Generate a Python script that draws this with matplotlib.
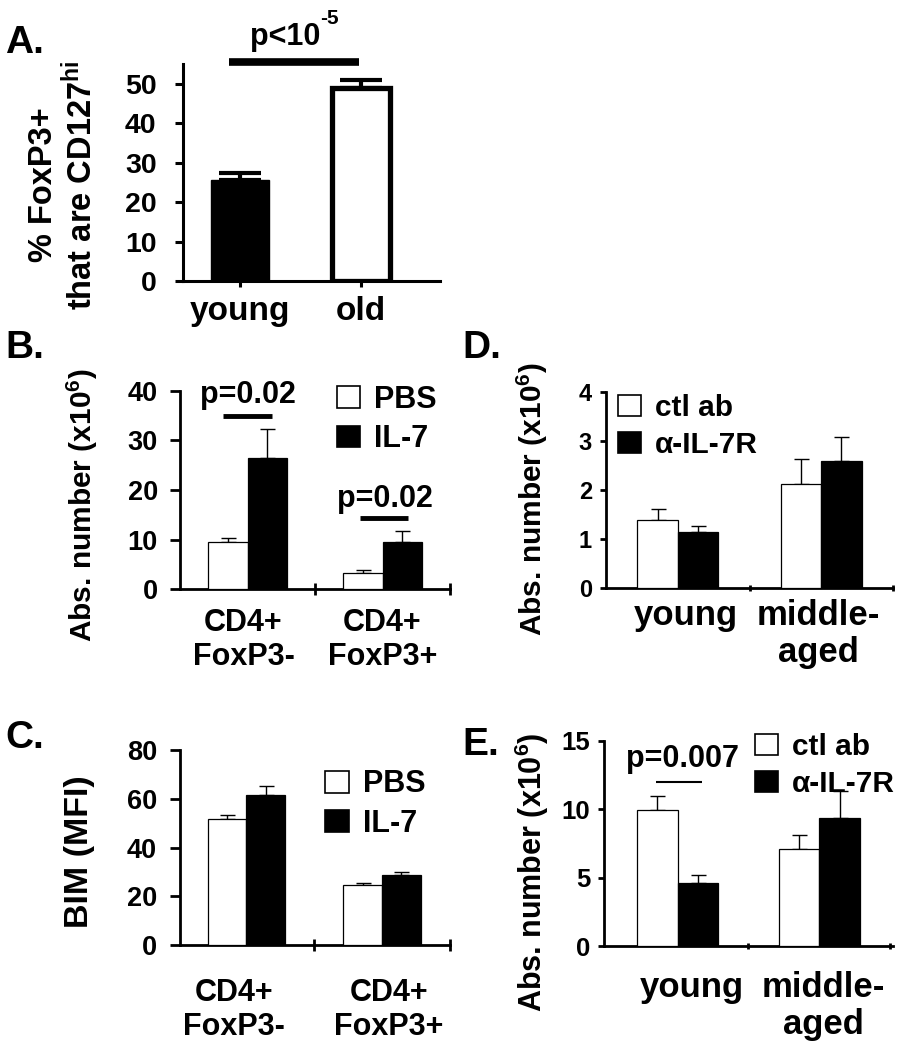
import matplotlib
matplotlib.use("Agg")
import matplotlib.pyplot as plt
from matplotlib.patches import Patch
import numpy as np

plt.rcParams['font.family'] = ['Liberation Sans', 'DejaVu Sans']
plt.rcParams['font.weight'] = 'bold'
plt.rcParams['mathtext.fontset'] = 'custom'
plt.rcParams['mathtext.rm'] = 'Liberation Sans:bold'
plt.rcParams['mathtext.bf'] = 'Liberation Sans:bold'
plt.rcParams['mathtext.it'] = 'Liberation Sans:bold'

# ---- data ----
a_cats = ["young", "old"]
a_vals = [25.5, 49.0]
a_err = [1.8, 2.0]

b_cats = ["CD4+\nFoxP3-", "CD4+\nFoxP3+"]
b_pbs = [9.5, 3.2]
b_pbs_err = [0.9, 0.6]
b_il7 = [26.4, 9.5]
b_il7_err = [5.9, 2.3]

c_cats = ["CD4+\nFoxP3-", "CD4+\nFoxP3+"]
c_pbs = [51.8, 24.5]
c_pbs_err = [1.4, 1.1]
c_il7 = [61.5, 28.9]
c_il7_err = [3.6, 1.2]

d_cats = ["young", "middle-\naged"]
d_ctl = [1.38, 2.12]
d_ctl_err = [0.23, 0.52]
d_anti = [1.15, 2.60]
d_anti_err = [0.12, 0.48]

e_cats = ["young", "middle-\naged"]
e_ctl = [9.93, 7.10]
e_ctl_err = [1.07, 1.0]
e_anti = [4.59, 9.39]
e_anti_err = [0.61, 1.98]

W, H = 909, 1050
fig = plt.figure(figsize=(W/100, H/100), dpi=100)

def ax_px(l, r, b, t):
    return fig.add_axes([l/W, 1-b/H, (r-l)/W, (b-t)/H])

def style(ax, lw, ylen, fs, pad):
    for s in ['top', 'right']:
        ax.spines[s].set_visible(False)
    ax.spines['left'].set_linewidth(lw)
    ax.spines['bottom'].set_linewidth(lw)
    ax.tick_params(axis='y', direction='out', length=ylen, width=lw, labelsize=fs, pad=pad)
    for t in ax.get_yticklabels():
        t.set_fontweight('bold')

# ---- Panel A ----
axA = ax_px(183, 440, 281, 64)
x = np.arange(len(a_cats))
wA = 0.48
axA.bar(x[0], a_vals[0], wA, color='black', edgecolor='black', linewidth=1, zorder=3)
axA.bar(x[1], a_vals[1], wA, color='white', edgecolor='black', linewidth=3.8, zorder=3)
axA.errorbar(x, a_vals, yerr=[[0, 0], a_err], fmt='none', ecolor='black',
             elinewidth=3, capsize=15, capthick=3, zorder=2)
axA.set_xlim(-0.47, 1.65)
axA.set_ylim(0, 55)
axA.set_yticks([0, 10, 20, 30, 40, 50])
style(axA, 2.2, 6, 20.5, 13)
axA.set_xticks(x)
axA.set_xticklabels(a_cats, fontsize=24, fontweight='bold')
axA.tick_params(axis='x', direction='out', length=4, width=2.2, pad=7)
axA.set_ylabel("% FoxP3+\nthat are CD127$^{\\mathbf{hi}}$", fontsize=23.5, fontweight='bold',
               linespacing=1.15)
axA.yaxis.label.set_va('center')
axA.yaxis.set_label_coords(-0.465, 0.442)
axA.plot([-0.09, 0.98], [55.6, 55.6], color='black', lw=5.5, clip_on=False, solid_capstyle='butt')
axA.text(0.66, 59.9, "p<10", fontsize=22, fontweight='bold',
         ha='right', va='baseline', clip_on=False)
axA.text(0.665, 65.2, "-5", fontsize=15, fontweight='bold',
         ha='left', va='baseline', clip_on=False)
fig.text(5/W, 1-53/H, "A.", fontsize=28, fontweight='bold', ha='left', va='baseline')

def grouped(ax, cats, v1, e1, v2, e2, width, xlim, ylim, yticks, lw, ylen, fs_tick,
            tick_pad, fs_cat, cat_pad, cat_pos, elw=1.0, cap=5.4):
    x = np.arange(len(cats))
    ax.bar(x - width/2, v1, width, color='white', edgecolor='black', linewidth=0.9, zorder=3)
    ax.bar(x + width/2, v2, width, color='black', edgecolor='black', linewidth=0.9, zorder=3)
    ax.errorbar(x - width/2, v1, yerr=[np.zeros(len(v1)), e1], fmt='none', ecolor='black',
                elinewidth=elw, capsize=cap, capthick=elw, zorder=2)
    ax.errorbar(x + width/2, v2, yerr=[np.zeros(len(v2)), e2], fmt='none', ecolor='black',
                elinewidth=elw, capsize=cap, capthick=elw, zorder=2)
    ax.set_xlim(*xlim)
    ax.set_ylim(*ylim)
    ax.set_yticks(yticks)
    style(ax, lw, ylen, fs_tick, tick_pad)
    ax.set_xticks(x + 0.5)
    ax.set_xticklabels([])
    ax.tick_params(axis='x', which='major', direction='inout', length=ylen*1.2, width=lw)
    ax.set_xticks(cat_pos, minor=True)
    ax.set_xticklabels(cats, minor=True, fontsize=fs_cat, fontweight='bold', linespacing=1.15)
    ax.tick_params(axis='x', which='minor', length=0, pad=cat_pad)
    return x

def legend(ax, labels, anchor, fs):
    handles = [Patch(facecolor='white', edgecolor='black', linewidth=1.2),
               Patch(facecolor='black', edgecolor='black', linewidth=1.2)]
    leg = ax.legend(handles, labels, loc='upper left', bbox_to_anchor=anchor, frameon=False,
                    handlelength=0.78, handleheight=0.72, handletextpad=0.45,
                    labelspacing=0.3, borderpad=0, borderaxespad=0,
                    prop={'size': fs, 'weight': 'bold'})
    return leg

# ---- Panel B ----
axB = ax_px(180, 450, 589, 391)
grouped(axB, b_cats, b_pbs, b_pbs_err, b_il7, b_il7_err, 0.29, (-0.5, 1.48), (0, 40),
        [0, 10, 20, 30, 40], 2.0, 7.5, 19.5, 8.5, 22, 14, [-0.03, 1.0])
legend(axB, ["PBS", "IL-7"], (0.58, 1.03), 22)
axB.set_ylabel("Abs. number (x10$^{\\mathbf{6}}$)", fontsize=21.5, fontweight='bold')
axB.yaxis.label.set_va('center')
axB.yaxis.set_label_coords(-0.363, 0.424)
axB.plot([-0.18, 0.18], [34.9, 34.9], color='black', lw=3.5, clip_on=False, solid_capstyle='butt')
axB.text(0.0, 37.6, "p=0.02", fontsize=22, fontweight='bold', ha='center', va='baseline', clip_on=False)
axB.plot([0.83, 1.19], [14.3, 14.3], color='black', lw=3.5, clip_on=False, solid_capstyle='butt')
axB.text(1.02, 16.6, "p=0.02", fontsize=22, fontweight='bold', ha='center', va='baseline', clip_on=False)
fig.text(5/W, 1-358/H, "B.", fontsize=28, fontweight='bold', ha='left', va='baseline')

# ---- Panel D ----
axD = ax_px(606, 893, 588, 392)
grouped(axD, d_cats, d_ctl, d_ctl_err, d_anti, d_anti_err, 0.282, (-0.5, 1.5), (0, 4),
        [0, 1, 2, 3, 4], 2.0, 4, 17, 6, 25, 8, [0.056, 0.98])
legend(axD, ["ctl ab", "\u03b1-IL-7R"], (0.042, 0.99), 21.5)
axD.set_ylabel("Abs. number (x10$^{\\mathbf{6}}$)", fontsize=21.5, fontweight='bold')
axD.yaxis.label.set_va('center')
axD.yaxis.set_label_coords(-0.258, 0.454)
fig.text(462/W, 1-358/H, "D.", fontsize=28, fontweight='bold', ha='left', va='baseline')

# ---- Panel C ----
axC = ax_px(180, 450, 945, 750)
grouped(axC, c_cats, c_pbs, c_pbs_err, c_il7, c_il7_err, 0.285, (-0.49, 1.45), (0, 80),
        [0, 20, 40, 60, 80], 2.0, 7.5, 19.5, 9, 22, 24, [-0.09, 1.05])
legend(axC, ["PBS", "IL-7"], (0.537, 0.9), 22)
axC.set_ylabel("BIM (MFI)", fontsize=24.5, fontweight='bold')
axC.yaxis.label.set_va('center')
axC.yaxis.set_label_coords(-0.374, 0.477)
fig.text(5/W, 1-748/H, "C.", fontsize=28, fontweight='bold', ha='left', va='baseline')

# ---- Panel E ----
axE = ax_px(604, 893, 946, 741)
grouped(axE, e_cats, e_ctl, e_ctl_err, e_anti, e_anti_err, 0.285, (-0.52, 1.52), (0, 15),
        [0, 5, 10, 15], 2.0, 4, 18.5, 6, 25, 18, [0.1, 1.03])
legend(axE, ["ctl ab", "\u03b1-IL-7R"], (0.522, 1.04), 21.5)
axE.set_ylabel("Abs. number (x10$^{\\mathbf{6}}$)", fontsize=22, fontweight='bold')
axE.yaxis.label.set_va('center')
axE.yaxis.set_label_coords(-0.249, 0.36)
axE.plot([-0.15, 0.17], [12.0, 12.0], color='black', lw=1.5, clip_on=False, solid_capstyle='butt')
axE.text(0.035, 13.1, "p=0.007", fontsize=22, fontweight='bold', ha='center', va='baseline', clip_on=False)
fig.text(462/W, 1-755/H, "E.", fontsize=28, fontweight='bold', ha='left', va='baseline')

fig.savefig("out.png", dpi=100)
